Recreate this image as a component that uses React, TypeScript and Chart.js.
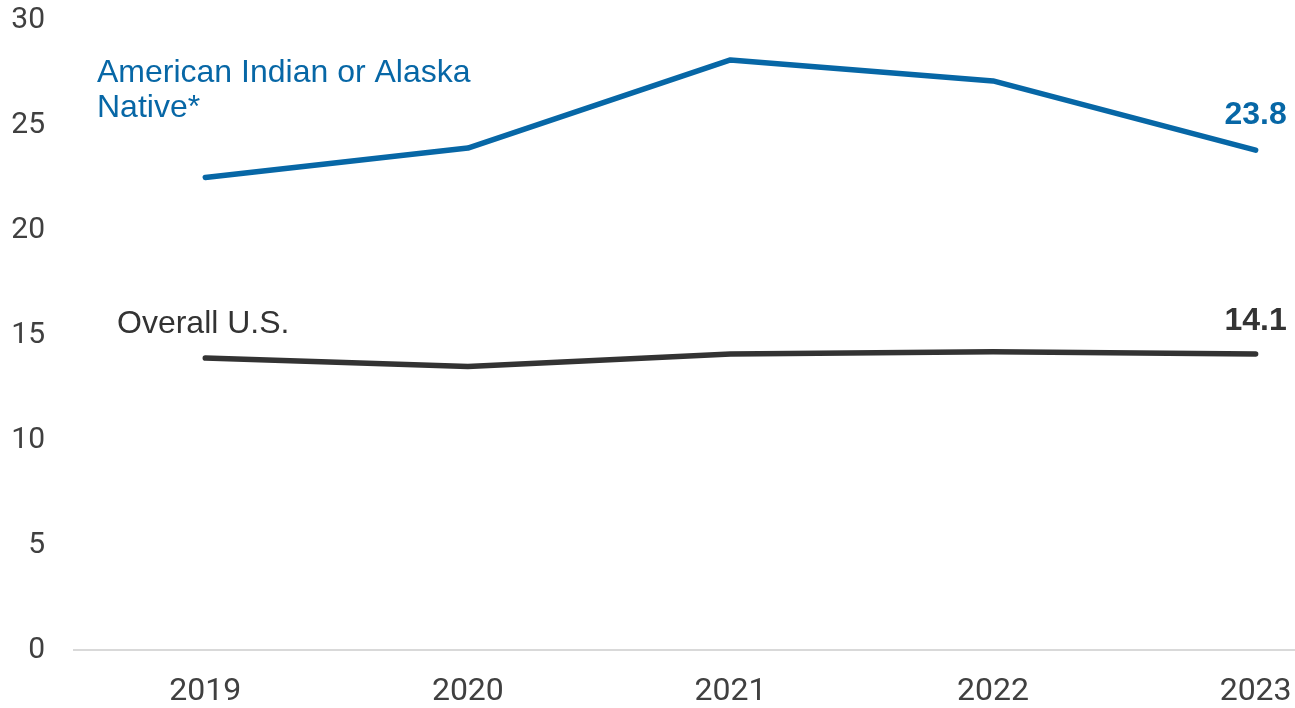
import React, { useEffect, useRef } from "react";
import { Chart, registerables } from "chart.js";

Chart.register(...registerables);

const years = [2019, 2020, 2021, 2022, 2023];
const aianValues = [22.5, 23.9, 28.1, 27.1, 23.8];
const overallValues = [13.9, 13.5, 14.1, 14.2, 14.1];
const yTicks = [0, 5, 10, 15, 20, 25, 30];
const aianLabel = ["American Indian or Alaska", "Native*"];
const overallLabel = "Overall U.S.";

const BLUE = "#0767a6";
const DARK = "#333333";
const TEXT = "#404040";
const ANNOT_FONT = "'Liberation Sans', Arial, sans-serif";

export default function App() {
  const ref = useRef<HTMLCanvasElement>(null);

  useEffect(() => {
    document.body.style.margin = "0";
    const labelPlugin = {
      id: "seriesLabels",
      afterDatasetsDraw(chart: any) {
        const { ctx, chartArea, scales } = chart;
        const x = scales.x;
        const y = scales.y;
        ctx.save();
        ctx.textBaseline = "alphabetic";
        ctx.font = `32px ${ANNOT_FONT}`;
        ctx.textAlign = "left";
        ctx.fillStyle = BLUE;
        ctx.fillText(aianLabel[0], chartArea.left + 23, 82);
        ctx.fillText(aianLabel[1], chartArea.left + 23, 117);
        ctx.fillStyle = DARK;
        ctx.fillText(overallLabel, chartArea.left + 43, 333);

        const last = years.length - 1;
        ctx.font = `bold 32px ${ANNOT_FONT}`;
        ctx.textAlign = "center";
        ctx.fillStyle = BLUE;
        ctx.fillText(
          aianValues[last].toFixed(1),
          x.getPixelForValue(years[last]),
          y.getPixelForValue(aianValues[last]) - 26
        );
        ctx.fillStyle = DARK;
        ctx.fillText(
          overallValues[last].toFixed(1),
          x.getPixelForValue(years[last]),
          y.getPixelForValue(overallValues[last]) - 24
        );
        ctx.restore();
      },
    };

    const chart = new Chart(ref.current as HTMLCanvasElement, {
      type: "line",
      data: {
        datasets: [
          {
            label: "American Indian or Alaska Native*",
            data: years.map((yr, i) => ({ x: yr, y: aianValues[i] })),
            borderColor: BLUE,
            borderWidth: 5.5,
            pointRadius: 0,
            borderCapStyle: "round",
            borderJoinStyle: "round",
            tension: 0,
          },
          {
            label: "Overall U.S.",
            data: years.map((yr, i) => ({ x: yr, y: overallValues[i] })),
            borderColor: DARK,
            borderWidth: 5.5,
            pointRadius: 0,
            borderCapStyle: "round",
            borderJoinStyle: "round",
            tension: 0,
          },
        ],
      },
      options: {
        responsive: false,
        animation: false,
        layout: { padding: { top: 20, right: 0, left: 0, bottom: 0 } },
        plugins: { legend: { display: false }, tooltip: { enabled: false } },
        scales: {
          x: {
            type: "linear",
            min: 2018.5,
            max: 2023.15,
            afterBuildTicks: (s: any) => {
              s.ticks = years.map((v) => ({ value: v }));
            },
            afterFit: (s: any) => {
              s.height = 58;
              s.paddingLeft = 0;
              s.paddingRight = 0;
            },
            grid: { display: false, drawTicks: false },
            border: { display: true, color: "#d9d9d9", width: 2 },
            ticks: {
              font: { family: "Roboto", size: 32 },
              color: TEXT,
              padding: 23,
              maxRotation: 0,
              callback: (v: any) => String(v),
            },
          },
          y: {
            type: "linear",
            min: 0,
            max: 30,
            afterBuildTicks: (s: any) => {
              s.ticks = yTicks.map((v) => ({ value: v }));
            },
            afterFit: (s: any) => {
              s.width = 74;
              s.paddingTop = 0;
              s.paddingBottom = 0;
            },
            grid: { display: false, drawTicks: false },
            border: { display: false },
            ticks: {
              font: { family: "Roboto", size: 30 },
              color: TEXT,
              padding: 29,
            },
          },
        },
      },
      plugins: [labelPlugin],
    } as any);

    return () => chart.destroy();
  }, []);

  return (
    <div style={{ width: 1295, height: 708 }}>
      <canvas ref={ref} width={1295} height={708} style={{ display: "block" }} />
    </div>
  );
}
